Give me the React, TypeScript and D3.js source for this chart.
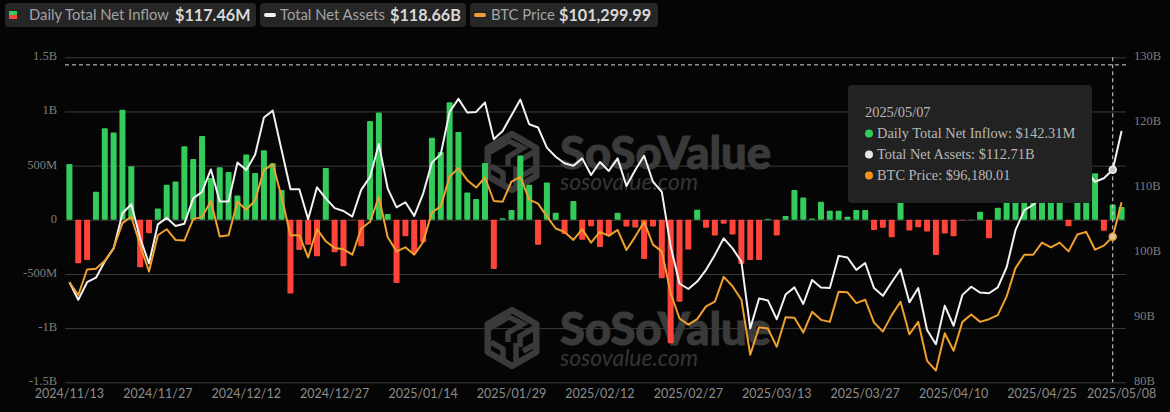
import React, { useRef, useEffect } from "react";
import * as d3 from "d3";

// trading days shown on the x axis
const dates = [
  "2024/11/13","2024/11/14","2024/11/15","2024/11/18","2024/11/19","2024/11/20","2024/11/21","2024/11/22","2024/11/25","2024/11/26",
  "2024/11/27","2024/11/29","2024/12/02","2024/12/03","2024/12/04","2024/12/05","2024/12/06","2024/12/09","2024/12/10","2024/12/11",
  "2024/12/12","2024/12/13","2024/12/16","2024/12/17","2024/12/18","2024/12/19","2024/12/20","2024/12/23","2024/12/24","2024/12/26",
  "2024/12/27","2024/12/30","2024/12/31","2025/01/02","2025/01/03","2025/01/06","2025/01/07","2025/01/08","2025/01/10","2025/01/13",
  "2025/01/14","2025/01/15","2025/01/16","2025/01/17","2025/01/21","2025/01/22","2025/01/23","2025/01/24","2025/01/27","2025/01/28",
  "2025/01/29","2025/01/30","2025/01/31","2025/02/03","2025/02/04","2025/02/05","2025/02/06","2025/02/07","2025/02/10","2025/02/11",
  "2025/02/12","2025/02/13","2025/02/14","2025/02/18","2025/02/19","2025/02/20","2025/02/21","2025/02/24","2025/02/25","2025/02/26",
  "2025/02/27","2025/02/28","2025/03/03","2025/03/04","2025/03/05","2025/03/06","2025/03/07","2025/03/10","2025/03/11","2025/03/12",
  "2025/03/13","2025/03/14","2025/03/17","2025/03/18","2025/03/19","2025/03/20","2025/03/21","2025/03/24","2025/03/25","2025/03/26",
  "2025/03/27","2025/03/28","2025/03/31","2025/04/01","2025/04/02","2025/04/03","2025/04/04","2025/04/07","2025/04/08","2025/04/09",
  "2025/04/10","2025/04/11","2025/04/14","2025/04/15","2025/04/16","2025/04/17","2025/04/21","2025/04/22","2025/04/23","2025/04/24",
  "2025/04/25","2025/04/28","2025/04/29","2025/04/30","2025/05/01","2025/05/02","2025/05/05","2025/05/06","2025/05/07","2025/05/08",
];

// daily net inflow, in $M
const inflow = [
  515,-400,-370,258,845,805,1015,495,-438,-123,
  105,323,354,680,562,773,386,484,441,224,
  602,432,643,523,276,-680,-278,-231,-336,478,
  -300,-429,-2,-244,913,990,53,-583,-151,-309,
  -207,758,627,1084,810,252,193,525,-454,15,
  90,593,323,-231,345,65,-130,174,-185,-59,
  -250,-145,65,-62,-71,-361,-62,-540,-1139,-756,
  -275,93,-74,-145,-37,-136,-407,-370,-370,10,
  -145,34,275,207,12,167,83,83,28,90,
  90,-93,-74,-160,220,-99,-68,-108,-324,-127,
  -151,-5,2,74,-170,111,381,936,916,442,
  380,591,173,-59,422,674,429,-102,142.31,117.46,
];

// total net assets, in $B
const netAssets = [
  95.4,92.7,95.4,96.1,98.6,100.6,106,107.4,102.15,98.3,
  104.3,105.3,104.05,104.4,108.3,109.3,112.75,107.8,107.8,113.8,
  112.65,115,120.75,121.8,115.7,109.7,109.7,105.1,110,108.3,
  106.8,106.35,105.5,109.6,111.6,116.65,109.8,106.9,107.7,105.6,
  109,113.8,115.1,121.6,123.6,121.5,121.6,123.05,117.4,118.65,
  121.1,123.5,119.7,119.2,116.1,114.7,113.7,113.3,114.45,111.9,
  113.9,112.5,114.45,110.2,112.65,114.85,110.85,109.3,100.9,95.2,
  94.35,95.5,97.3,99.6,102.15,100.6,98.55,88.3,92.9,92.6,
  89.7,93.5,94.6,92.05,95.75,94.6,94.5,99.45,99.2,97.3,
  98.35,94.5,93.3,95.4,97.4,92.3,94.5,88.05,85.85,91.8,
  88.7,93.45,94.7,93.8,93.7,94.6,97.7,103.4,106.5,107.3,
  108.5,109,109.6,109.8,111.5,112.5,110.85,111.4,112.71,118.66,
];

// BTC price, in $K
const btcPrice = [
  89.4,87.5,91.3,91.4,92.6,94.5,98.2,99.2,94.9,91,
  96.4,97.3,95.7,95.6,98.8,99.1,101.5,96.2,96.4,101.4,
  100.2,101.6,106.1,107,102.1,96.4,96.4,93.1,97.3,95.5,
  94.5,94.3,93.5,97.4,98.4,102.1,96.1,94,94.6,93.5,
  95.4,99.8,100.7,105.1,106.4,104.6,103.5,105,101.5,101.4,
  104.4,105.1,101.7,101.1,99.2,97.4,96.9,95.7,97.3,95.3,
  96.9,96.3,97.2,94.2,96.2,98.4,95,94,87.8,84,
  83.1,83.9,85.8,86.5,90.2,88.8,86.8,78.6,82.7,82.5,
  79.8,84.2,84.1,81.9,85,83.8,83.5,88,87.9,86.3,
  86.8,83.4,82.05,84.5,86.5,81.65,83.5,77.7,76.25,81.8,
  79.2,83.5,84.6,83.5,83.9,84.5,87.3,91.5,93.5,93.5,
  95.3,94.6,95.3,94,96.5,96.9,94.25,94.85,96.18,101.3,
];

const xTickDates = [
  "2024/11/13","2024/11/27","2024/12/12","2024/12/27","2025/01/14","2025/01/29","2025/02/12",
  "2025/02/27","2025/03/13","2025/03/27","2025/04/10","2025/04/25","2025/05/08",
];
const leftTicks = [-1500, -1000, -500, 0, 500, 1000, 1500];
const leftTickLabels = ["-1.5B", "-1B", "-500M", "0", "500M", "1B", "1.5B"];
const rightTicks = [80, 90, 100, 110, 120, 130];

const hoverDate = "2025/05/07";
const hoverLeftValue = 1430;

const GREEN = "#33cc5a";
const RED = "#ff453a";
const WHITE = "#f2f2f2";
const ORANGE = "#efa02e";
const SANS = "Lato, sans-serif";
const SERIF = "'Liberation Serif', serif";

const margin = { top: 57.3, right: 44, bottom: 29.7, left: 65 };
const width = 1170;
const height = 412;
const innerWidth = width - margin.left - margin.right;
const innerHeight = height - margin.top - margin.bottom;

const x = d3.scaleBand<string>().domain(dates).range([0, innerWidth]).paddingInner(0.32).paddingOuter(0.16);
const yLeft = d3.scaleLinear().domain([-1500, 1500]).range([innerHeight, 0]);
const yRight = d3.scaleLinear().domain([80, 130]).range([innerHeight, 0]);
const yBtc = d3.scaleLinear().domain([74.5, 122.9]).range([innerHeight, 0]);

const cx = (i: number) => (x(dates[i]) || 0) + x.bandwidth() / 2;
const assetsLine = d3.line<number>().x((_, i) => cx(i)).y((d) => yRight(d));
const btcLine = d3.line<number>().x((_, i) => cx(i)).y((d) => yBtc(d));

const hoverIndex = dates.indexOf(hoverDate);

function Watermark({ y }: { y: number }) {
  // logo hexagon plus cube strokes, drawn around a centre point
  const hex = d3.range(6).map((k) => {
    const a = (Math.PI / 3) * k - Math.PI / 2;
    return [28 * Math.cos(a), 28 * Math.sin(a)] as [number, number];
  });
  const hexPath = d3.line().curve(d3.curveLinearClosed)(hex) || "";
  const fill = "#3a3a3a";
  return (
    <g transform={`translate(512,${y})`}>
      <path d={hexPath} fill="none" stroke={fill} strokeWidth={6.5} strokeLinejoin="round" />
      <path
        d="M-22,-10 L-3,-21 L11,-14 L-4,-5 L-4,4 M22,-10 L8,-2 L8,9 M-21,4 L-9,11 L-9,23 M4,24 L4,5 M22,7 L11,13"
        fill="none"
        stroke={fill}
        strokeWidth={5.5}
      />
      <text x={48} y={7} fontFamily={SANS} fontWeight={900} fontSize={46} stroke={fill} strokeWidth={1} textLength={211} lengthAdjust="spacingAndGlyphs" fill={fill}>
        SoSoValue
      </text>
      <text x={48} y={28} fontFamily={SANS} fontStyle="italic" fontSize={23} textLength={138} lengthAdjust="spacingAndGlyphs" fill="#353535">
        sosovalue.com
      </text>
    </g>
  );
}

function LegendChip(props: { x: number; w: number; label: string; labelX: number; value: string; valueX: number; children: React.ReactNode }) {
  return (
    <g>
      <rect x={props.x} y={3} width={props.w} height={24} rx={4} fill="#262626" />
      {props.children}
      <text x={props.labelX} y={20} fontFamily={SANS} fontSize={14.8} fill="#a3a3a3">
        {props.label}
      </text>
      <text x={props.valueX} y={20.5} fontFamily={SANS} fontSize={16.2} fontWeight={700} fill="#d9d9d9">
        {props.value}
      </text>
    </g>
  );
}

export default function App() {
  const leftAxisRef = useRef<SVGGElement | null>(null);
  const rightAxisRef = useRef<SVGGElement | null>(null);
  const bottomAxisRef = useRef<SVGGElement | null>(null);

  useEffect(() => {
    document.body.style.margin = "0";
    document.body.style.background = "#050505";

    const left = d3.select(leftAxisRef.current!);
    left.call(
      d3
        .axisLeft(yLeft)
        .tickValues(leftTicks)
        .tickSize(-innerWidth)
        .tickPadding(8)
        .tickFormat((_, i) => leftTickLabels[i])
    );
    left.select(".domain").remove();
    left.selectAll(".tick line").attr("stroke", "#3d3d3d");
    left.selectAll("text").attr("fill", "#7d7d7d").attr("font-family", SERIF).attr("font-size", 12.5).attr("dy", "0.2em");

    const right = d3.select(rightAxisRef.current!);
    right.call(d3.axisRight(yRight).tickValues(rightTicks).tickSize(0).tickPadding(8).tickFormat((d) => `${d}B`));
    right.select(".domain").remove();
    right.selectAll("text").attr("fill", "#7d7d7d").attr("font-family", SERIF).attr("font-size", 12.5).attr("dy", "0.2em");

    const bottom = d3.select(bottomAxisRef.current!);
    bottom.call(d3.axisBottom(x).tickValues(xTickDates).tickSize(0).tickPadding(7));
    bottom.select(".domain").remove();
    bottom.selectAll("text").attr("fill", "#8c8c8c").attr("font-family", SANS).attr("font-size", 12.5);
  }, []);

  const hx = cx(hoverIndex);

  return (
    <svg width={width} height={height} style={{ display: "block", background: "#050505" }}>
      <LegendChip x={5} w={251} label="Daily Total Net Inflow" labelX={29} value="$117.46M" valueX={175}>
        <rect x={9} y={11} width={8} height={4} fill={GREEN} />
        <rect x={9} y={15} width={8} height={4} fill={RED} />
      </LegendChip>
      <LegendChip x={260} w={206} label="Total Net Assets" labelX={280} value="$118.66B" valueX={390}>
        <rect x={264} y={13} width={12} height={4} rx={2} fill={WHITE} />
      </LegendChip>
      <LegendChip x={470} w={188} label="BTC Price" labelX={491} value="$101,299.99" valueX={559}>
        <rect x={474} y={13} width={12} height={4} rx={2} fill={ORANGE} />
      </LegendChip>

      <g ref={leftAxisRef} transform={`translate(${margin.left},${margin.top})`} />
      <g ref={rightAxisRef} transform={`translate(${margin.left + innerWidth},${margin.top})`} />
      <g ref={bottomAxisRef} transform={`translate(${margin.left},${margin.top + innerHeight})`} />

      <Watermark y={162} />
      <Watermark y={338} />

      <g transform={`translate(${margin.left},${margin.top})`}>
        {inflow.map((v, i) => (
          <rect
            key={dates[i]}
            x={x(dates[i])}
            y={v >= 0 ? yLeft(v) : yLeft(0)}
            width={x.bandwidth()}
            height={Math.abs(yLeft(v) - yLeft(0))}
            rx={1}
            fill={v >= 0 ? GREEN : RED}
          />
        ))}
        <path d={assetsLine(netAssets) || ""} fill="none" stroke={WHITE} strokeWidth={2} strokeLinejoin="round" />
        <path d={btcLine(btcPrice) || ""} fill="none" stroke={ORANGE} strokeWidth={2} strokeLinejoin="round" />

        <line x1={0} x2={innerWidth} y1={yLeft(hoverLeftValue)} y2={yLeft(hoverLeftValue)} stroke="#d8d8d8" strokeWidth={1} strokeDasharray="4 3" />
        <line x1={hx} x2={hx} y1={0} y2={innerHeight} stroke="#d8d8d8" strokeWidth={1} strokeDasharray="4 3" />
        <circle cx={hx} cy={yRight(netAssets[hoverIndex])} r={3.5} fill="#c8c8c8" stroke="#f2f2f2" strokeWidth={1.5} />
        <circle cx={hx} cy={yBtc(btcPrice[hoverIndex])} r={3.5} fill="#d8c8a8" stroke={ORANGE} strokeWidth={1.5} />
      </g>

      <g fontFamily={SERIF} fontSize={14.4} fill="#b8b8b8">
        <rect x={848} y={85} width={244} height={118} rx={4} fill="#222222" />
        <text x={865} y={117}>{hoverDate}</text>
        <circle cx={869} cy={133.5} r={4} fill={GREEN} />
        <text x={877} y={138}>Daily Total Net Inflow: $142.31M</text>
        <circle cx={869} cy={154.5} r={4} fill="#e6e6e6" />
        <text x={877} y={159}>Total Net Assets: $112.71B</text>
        <circle cx={869} cy={175.5} r={4} fill="#f7931a" />
        <text x={877} y={180}>BTC Price: $96,180.01</text>
      </g>
    </svg>
  );
}
